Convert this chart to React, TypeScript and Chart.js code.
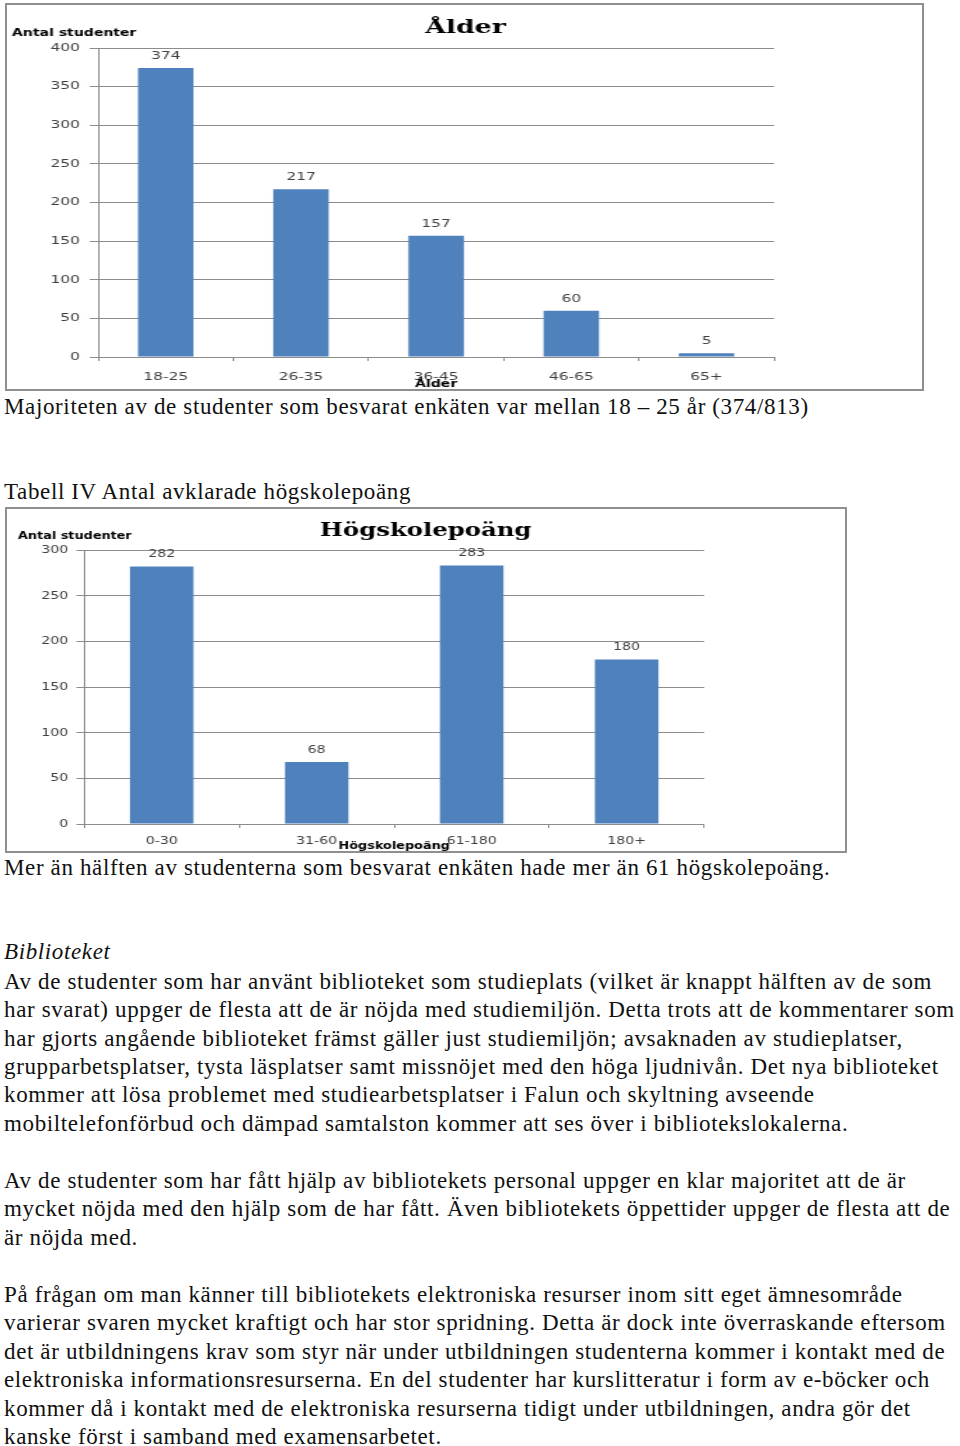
import React, { useEffect, useRef } from "react";
import { Chart, registerables } from "chart.js";

Chart.register(...registerables);

// ---------- Data ----------
const ageCategories = ["18-25", "26-35", "36-45", "46-65", "65+"];
const ageCounts = [374, 217, 157, 60, 5];
const ageAxisMax = 400;
const ageAxisStep = 50;

const creditCategories = ["0-30", "31-60", "61-180", "180+"];
const creditCounts = [282, 68, 283, 180];
const creditAxisMax = 300;
const creditAxisStep = 50;

const yAxisTitle = "Antal studenter";

// ---------- Text ----------
type Line = { y: number; text: string; italic?: boolean };
const textLines: Line[] = [
  { y: 407, text: "Majoriteten av de studenter som besvarat enkäten var mellan 18 – 25 år (374/813)" },
  { y: 492, text: "Tabell IV Antal avklarade högskolepoäng" },
  { y: 868, text: "Mer än hälften av studenterna som besvarat enkäten hade mer än 61 högskolepoäng." },
  { y: 952, text: "Biblioteket", italic: true },
  { y: 982, text: "Av de studenter som har använt biblioteket som studieplats (vilket är knappt hälften av de som" },
  { y: 1010, text: "har svarat) uppger de flesta att de är nöjda med studiemiljön. Detta trots att de kommentarer som" },
  { y: 1039, text: "har gjorts angående biblioteket främst gäller just studiemiljön; avsaknaden av studieplatser," },
  { y: 1067, text: "grupparbetsplatser, tysta läsplatser samt missnöjet med den höga ljudnivån. Det nya biblioteket" },
  { y: 1095, text: "kommer att lösa problemet med studiearbetsplatser i Falun och skyltning avseende" },
  { y: 1124, text: "mobiltelefonförbud och dämpad samtalston kommer att ses över i bibliotekslokalerna." },
  { y: 1181, text: "Av de studenter som har fått hjälp av bibliotekets personal uppger en klar majoritet att de är" },
  { y: 1209, text: "mycket nöjda med den hjälp som de har fått. Även bibliotekets öppettider uppger de flesta att de" },
  { y: 1238, text: "är nöjda med." },
  { y: 1295, text: "På frågan om man känner till bibliotekets elektroniska resurser inom sitt eget ämnesområde" },
  { y: 1323, text: "varierar svaren mycket kraftigt och har stor spridning. Detta är dock inte överraskande eftersom" },
  { y: 1352, text: "det är utbildningens krav som styr när under utbildningen studenterna kommer i kontakt med de" },
  { y: 1380, text: "elektroniska informationsresurserna. En del studenter har kurslitteratur i form av e-böcker och" },
  { y: 1409, text: "kommer då i kontakt med de elektroniska resurserna tidigt under utbildningen, andra gör det" },
  { y: 1437, text: "kanske först i samband med examensarbetet." },
];

type ChartProps = {
  labels: string[];
  values: number[];
  yMax: number;
  yStep: number;
  title: string;
  xTitle: string;
  box: { left: number; top: number; width: number; height: number };
  sx: number;
  yAxisW: number;
  rightPad: number;
  topPad: number;
  bottomH: number;
  yTickPad: number;
  xTickPad: number;
  titleSize: number;
  titleX: number;
  titleY: number;
  yTitleX: number;
  yTitleY: number;
  xTitleY: number;
};

const GRID = "#8c8c8c";
const LABEL = "#404040";
const BAR = "#4F81BD";

function BarBox(p: ChartProps) {
  const ref = useRef<HTMLCanvasElement | null>(null);
  useEffect(() => {
    if (!ref.current) return;
    const overlay = {
      id: "overlay",
      afterDatasetsDraw(chart: any) {
        const ctx = chart.ctx;
        const meta = chart.getDatasetMeta(0);
        ctx.save();
        ctx.fillStyle = LABEL;
        ctx.font = '11px "DejaVu Sans"';
        ctx.textAlign = "center";
        ctx.textBaseline = "middle";
        meta.data.forEach((bar: any, i: number) => {
          ctx.fillText(String(p.values[i]), bar.x, bar.y - 12);
        });
        ctx.fillStyle = "#000";
        ctx.textBaseline = "alphabetic";
        ctx.font = `bold ${p.titleSize}px "DejaVu Serif"`;
        ctx.fillText(p.title, p.titleX, p.titleY);
        ctx.font = 'bold 10px "DejaVu Sans"';
        ctx.textAlign = "left";
        ctx.fillText(yAxisTitle, p.yTitleX, p.yTitleY);
        ctx.textAlign = "center";
        const ca = chart.chartArea;
        ctx.fillText(p.xTitle, (ca.left + ca.right) / 2, p.xTitleY);
        ctx.restore();
      },
    };
    const chart = new Chart(ref.current, {
      type: "bar",
      data: {
        labels: p.labels,
        datasets: [
          {
            data: p.values,
            backgroundColor: BAR,
            borderWidth: 0,
            barPercentage: 0.41,
            categoryPercentage: 1,
          },
        ],
      },
      options: {
        responsive: true,
        maintainAspectRatio: false,
        animation: false,
        layout: { padding: { left: 0, right: p.rightPad, top: p.topPad, bottom: 0 } },
        plugins: {
          legend: { display: false },
          title: { display: false },
          tooltip: { enabled: false },
        },
        scales: {
          x: {
            grid: {
              display: true,
              drawOnChartArea: false,
              drawTicks: true,
              tickLength: 4,
              color: GRID,
              offset: true,
            },
            border: { color: GRID, width: 1 },
            ticks: { font: { family: "DejaVu Sans", size: 11 }, color: LABEL, padding: p.xTickPad },
            afterFit: (s: any) => {
              s.height = p.bottomH;
            },
          },
          y: {
            min: 0,
            max: p.yMax,
            ticks: { stepSize: p.yStep, font: { family: "DejaVu Sans", size: 11 }, color: LABEL, padding: p.yTickPad },
            grid: { color: GRID, tickLength: 6 },
            border: { color: GRID, width: 1 },
            afterFit: (s: any) => {
              s.width = p.yAxisW;
            },
          },
        },
      },
      plugins: [overlay],
    });
    return () => chart.destroy();
  }, []);
  const innerW = p.box.width - 4;
  const innerH = p.box.height - 4;
  return (
    <div
      style={{
        position: "absolute",
        left: p.box.left,
        top: p.box.top,
        width: p.box.width,
        height: p.box.height,
        boxSizing: "border-box",
        border: "2px solid #8f8f8f",
        background: "#fff",
        overflow: "hidden",
      }}
    >
      <div
        style={{
          position: "absolute",
          left: 0,
          top: 0,
          width: innerW / p.sx,
          height: innerH,
          transform: `scaleX(${p.sx})`,
          transformOrigin: "0 0",
        }}
      >
        <canvas ref={ref} style={{ display: "block" }} />
      </div>
    </div>
  );
}

export default function App() {
  return (
    <div
      style={{
        position: "absolute",
        left: 0,
        top: 0,
        width: 960,
        height: 1446,
        background: "#fff",
        overflow: "hidden",
      }}
    >
      <BarBox
        labels={ageCategories}
        values={ageCounts}
        yMax={ageAxisMax}
        yStep={ageAxisStep}
        title="Ålder"
        xTitle="Ålder"
        box={{ left: 5, top: 3, width: 919, height: 388 }}
        sx={1.4}
        yAxisW={65}
        rightPad={106.5}
        topPad={43}
        bottomH={32}
        yTickPad={7}
        xTickPad={10}
        titleSize={19}
        titleX={327}
        titleY={28}
        yTitleX={3.6}
        yTitleY={31}
        xTitleY={382}
      />
      <BarBox
        labels={creditCategories}
        values={creditCounts}
        yMax={creditAxisMax}
        yStep={creditAxisStep}
        title="Högskolepoäng"
        xTitle="Högskolepoäng"
        box={{ left: 5, top: 507, width: 842, height: 346 }}
        sx={1.28}
        yAxisW={60.2}
        rightPad={110.9}
        topPad={41}
        bottomH={27}
        yTickPad={6.5}
        xTickPad={7}
        titleSize={19}
        titleX={326.6}
        titleY={26.5}
        yTitleX={8.6}
        yTitleY={30}
        xTitleY={340}
      />
      {textLines.map((l, i) => (
        <div
          key={i}
          style={{
            position: "absolute",
            left: 4,
            top: l.y - 14,
            whiteSpace: "nowrap",
            fontFamily: '"Liberation Serif", serif',
            fontSize: 23,
            letterSpacing: "0.63px",
            lineHeight: "28px",
            fontStyle: l.italic ? "italic" : "normal",
            color: "#111",
          }}
        >
          {l.text}
        </div>
      ))}
    </div>
  );
}
